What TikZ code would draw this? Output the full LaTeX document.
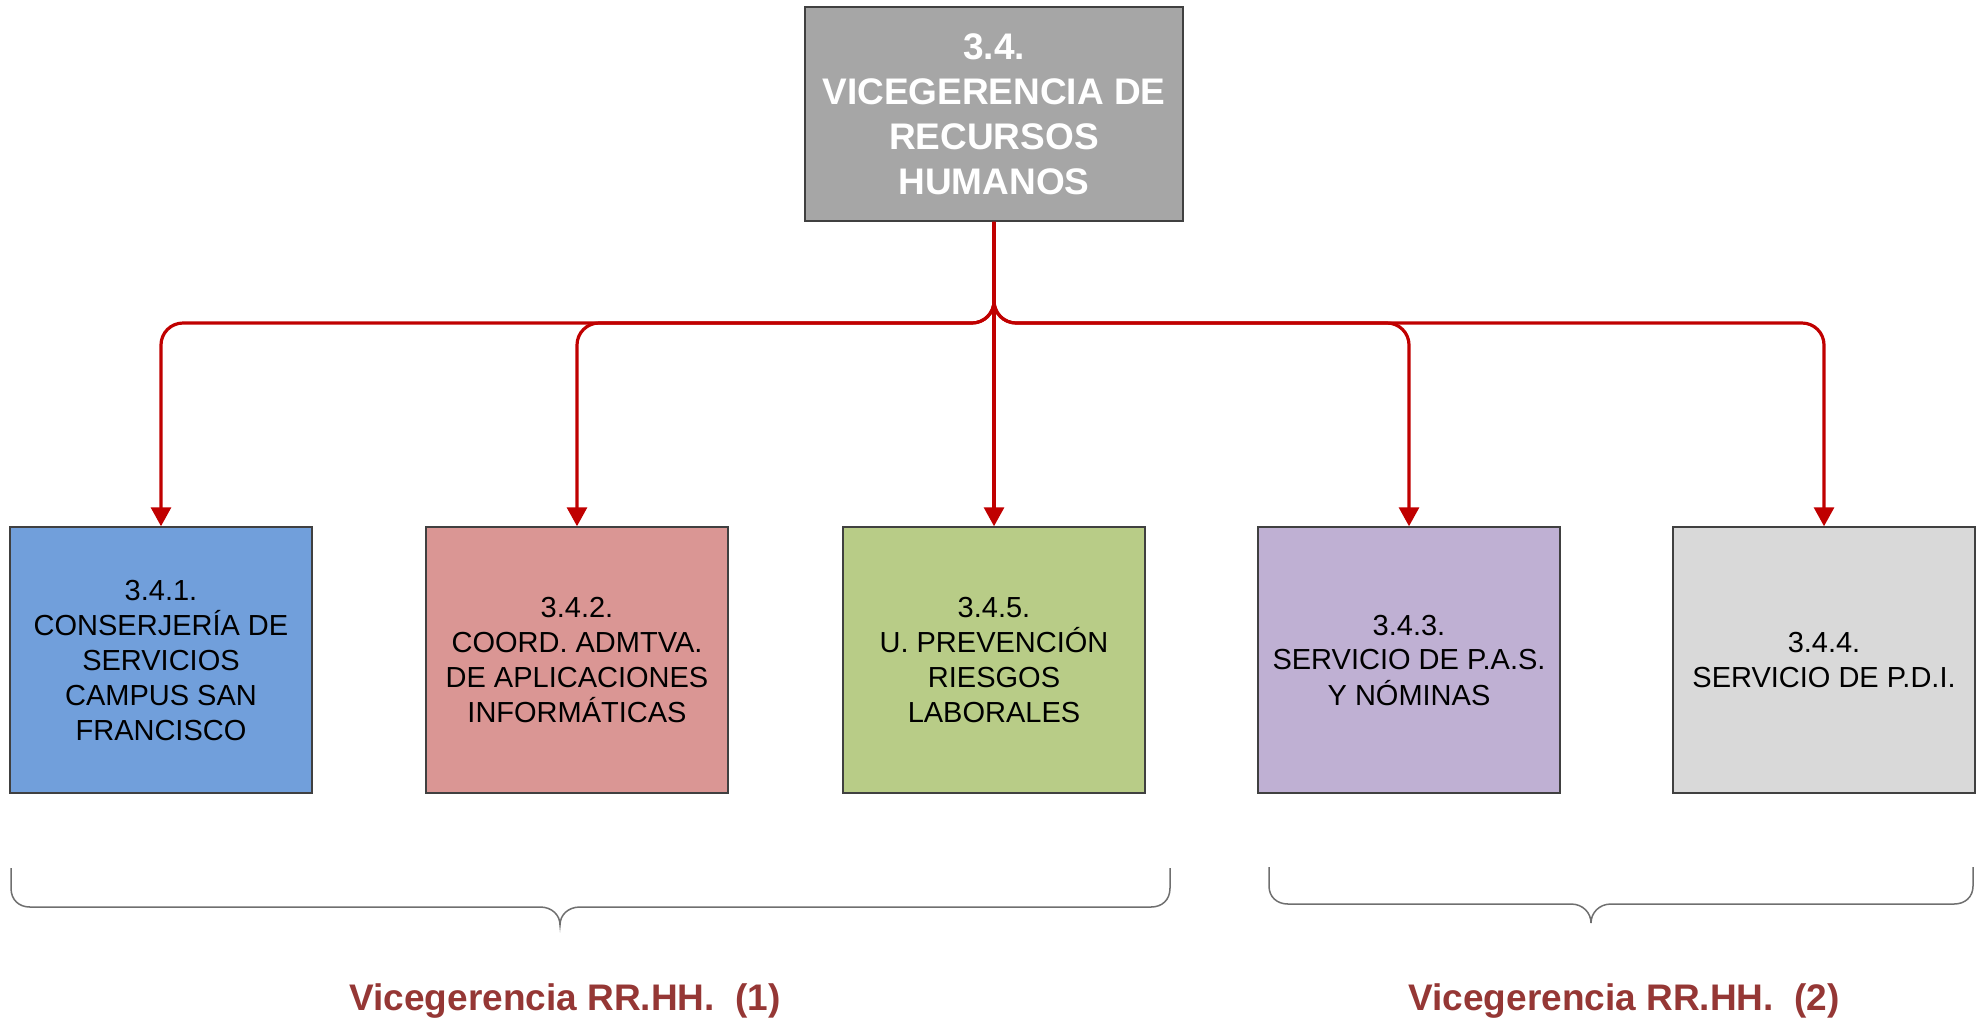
\documentclass[tikz,border=0pt]{standalone}
\usepackage{fontspec}
\setmainfont{Liberation Sans}
\usetikzlibrary{arrows.meta}
\definecolor{boxline}{HTML}{404040}
\definecolor{headgray}{HTML}{A6A6A6}
\definecolor{linkred}{HTML}{C00000}
\definecolor{bracegray}{HTML}{6F6F6F}
\definecolor{labelred}{HTML}{953735}
\definecolor{unitblue}{HTML}{719FDB}
\definecolor{unitred}{HTML}{DA9694}
\definecolor{unitgreen}{HTML}{B8CC87}
\definecolor{unitpurple}{HTML}{BFB0D3}
\definecolor{unitgray}{HTML}{D9D9D9}
\tikzset{every picture/.style={line width=0.75pt}}
\tikzset{
	unit/.style={draw=boxline, minimum width=151pt, minimum height=133pt, align=center, font=\fontsize{14.5}{17.5}\selectfont},
	head/.style={draw=boxline, fill=headgray, text=white, minimum width=189pt, minimum height=107pt, align=center, font=\bfseries\fontsize{18.5}{22.5}\selectfont},
	link/.style={draw=linkred, line width=1.6pt, rounded corners=11pt, -{Triangle[width=10pt,length=9.5pt]}},
	bracket/.style={draw=bracegray, line width=0.75pt},
	group/.style={text=labelred, font=\bfseries\fontsize{18.5}{22}\selectfont, anchor=base}
}

\begin{document}
\begin{tikzpicture}[x=0.5pt, y=-0.5pt]
	\useasboundingbox (0,0) rectangle (1984,1024);
	\node[head](VRH) at (994, 114){3.4.\\VICEGERENCIA DE\\RECURSOS\\HUMANOS};
	\node[unit, fill=unitblue](U1) at (161, 660){3.4.1.\\CONSERJERÍA DE\\SERVICIOS\\CAMPUS SAN\\FRANCISCO};
	\node[unit, fill=unitred](U2) at (577, 660){3.4.2.\\COORD. ADMTVA.\\DE APLICACIONES\\INFORMÁTICAS};
	\node[unit, fill=unitgreen](U5) at (994, 660){3.4.5.\\U. PREVENCIÓN\\RIESGOS\\LABORALES};
	\node[unit, fill=unitpurple](U3) at (1409, 660){3.4.3.\\SERVICIO DE P.A.S.\\Y NÓMINAS};
	\node[unit, fill=unitgray](U4) at (1824, 660){3.4.4.\\SERVICIO DE P.D.I.};
	\coordinate (bus) at (994, 323);
	\draw[link] (VRH.south) -- (bus) -| (U1.north);
	\draw[link] (VRH.south) -- (bus) -| (U2.north);
	\draw[link] (VRH.south) -- (U5.north);
	\draw[link] (VRH.south) -- (bus) -| (U3.north);
	\draw[link] (VRH.south) -- (bus) -| (U4.north);
	\draw[bracket] (11, 868) -- (11, 888) .. controls (11, 900) and (19, 907) .. (30, 907) -- (540, 907) .. controls (552, 907) and (560, 915) .. (560, 925) .. controls (560, 915) and (568, 907) .. (580, 907) -- (1151, 907) .. controls (1162, 907) and (1170, 900) .. (1170, 888) -- (1170, 868);
	\draw[bracket] (1269, 867) -- (1269, 886) .. controls (1269, 897) and (1277, 904) .. (1288, 904) -- (1571, 904) .. controls (1583, 904) and (1591, 913) .. (1591, 923) .. controls (1591, 913) and (1599, 904) .. (1611, 904) -- (1954, 904) .. controls (1965, 904) and (1973, 897) .. (1973, 886) -- (1973, 867);
	\node[group](G1) at (565, 1010){Vicegerencia RR.HH.~ (1)};
	\node[group](G2) at (1624, 1010){Vicegerencia RR.HH.~ (2)};
\end{tikzpicture}
\end{document}
